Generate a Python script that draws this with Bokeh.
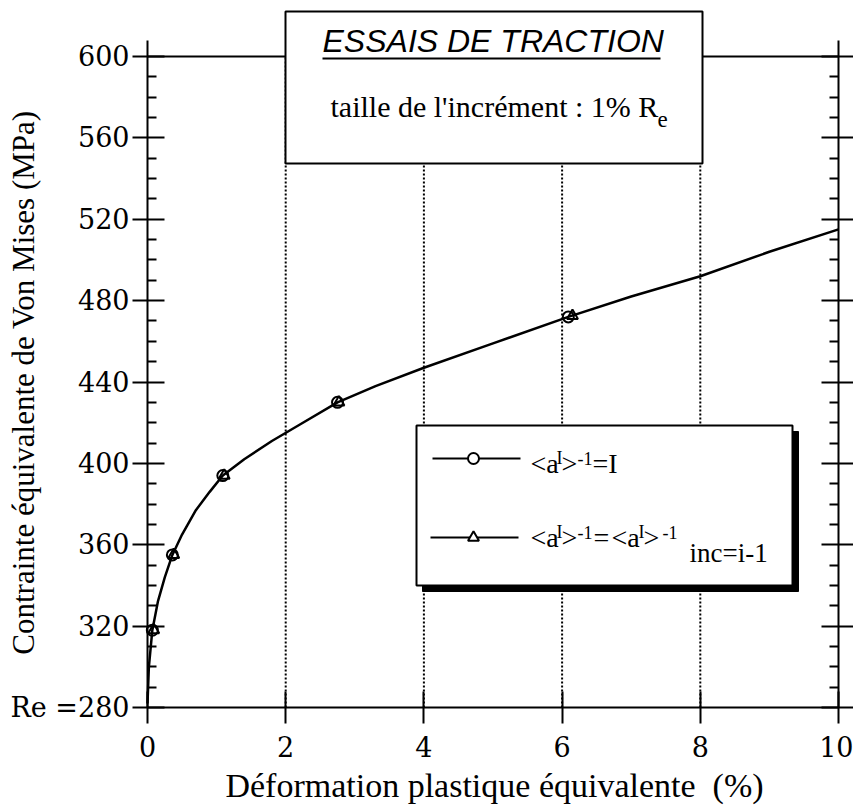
import math
from bokeh.plotting import figure
from bokeh.models import Range1d, LinearAxis, FixedTicker, Label, CustomJSTickFormatter
from bokeh.embed import file_html
from bokeh.resources import INLINE

# ---------------- data ----------------
strain_curve = [0.0, 0.02, 0.07, 0.15, 0.25, 0.36, 0.5, 0.7, 0.9, 1.09, 1.4, 1.8,
                2.2, 2.75, 3.3, 4.0, 5.0, 6.09, 7.0, 8.0, 9.0, 10.0]
stress_curve = [282, 300, 318, 332, 344, 355, 365, 377, 386, 394, 402, 411,
                419, 430, 438, 447, 459, 472, 482, 492, 504, 515]
strain_I = [0.07, 0.36, 1.09, 2.75, 6.09]
stress_I = [318, 355, 394, 430, 472]
strain_inc = [0.09, 0.38, 1.11, 2.77, 6.15]
stress_inc = [318, 355, 394, 430, 472.5]

x_ticks = [0, 2, 4, 6, 8, 10]
x_grid = [2, 4, 6, 8]
y_ticks = [280, 320, 360, 400, 440, 480, 520, 560, 600]
y_minor = [v for v in range(290, 600, 10) if (v - 280) % 40 != 0]
y_label_overrides = {280: "Re =280"}

# ---------------- layout helpers (canvas px -> data) ----------------
W, H = 853, 806
FL, FB = 147, 707          # canvas position of (0, 280)
XS = 691 / 10.0            # px per % strain
YS = 651 / 320.0           # px per MPa
def X(px):
    return (px - FL) / XS
def Y(py):
    return 280 + (FB - py) / YS

p = figure(width=W, height=H,
           x_range=Range1d(X(0), X(W)), y_range=Range1d(Y(H), Y(0)),
           x_axis_type=None, y_axis_type=None,
           output_backend="svg", toolbar_location=None, min_border=0)
p.outline_line_color = None
p.background_fill_color = "white"
p.border_fill_color = "white"

TICK_FONT = "DejaVu Serif"
SERIF = "Liberation Serif"

# dotted vertical grid
p.segment(x0=x_grid, y0=[280] * len(x_grid), x1=x_grid, y1=[600] * len(x_grid),
          line_color="black", line_dash="2 2", line_width=2)

# bottom axis
xa = LinearAxis(ticker=FixedTicker(ticks=x_ticks), fixed_location=280, bounds=(0, 10),
                axis_line_width=2, axis_line_color="black",
                major_tick_line_width=2, major_tick_in=16, major_tick_out=16,
                minor_tick_line_color=None,
                major_label_text_font=TICK_FONT, major_label_text_font_size="27px",
                major_label_text_color="black", major_label_standoff=12)
p.add_layout(xa, "below")

def yaxis(loc, labels=True):
    ax = LinearAxis(ticker=FixedTicker(ticks=y_ticks, minor_ticks=y_minor),
                    fixed_location=loc, bounds=(280, Y(40)),
                    axis_line_width=2, axis_line_color="black",
                    major_tick_line_width=2, major_tick_in=17, major_tick_out=15,
                    minor_tick_line_width=2, minor_tick_in=9, minor_tick_out=0,
                    major_label_text_font=TICK_FONT, major_label_text_font_size="27px",
                    major_label_text_color="black", major_label_standoff=3)
    if labels:
        ax.major_label_overrides = y_label_overrides
    else:
        ax.formatter = CustomJSTickFormatter(code="return ''")
    return ax

p.add_layout(yaxis(0, True), "left")
p.add_layout(yaxis(10, False), "right")

# top frame line (interrupted by the title box)
p.segment(x0=[0, 8], y0=[600, 600], x1=[2, 10], y1=[600, 600],
          line_color="black", line_width=2)

# curve and markers
p.line(strain_curve, stress_curve, line_color="black", line_width=2.5)
p.scatter(strain_inc, stress_inc, marker="triangle", size=11,
          fill_color=None, line_color="black", line_width=2)
p.scatter(strain_I, stress_I, marker="circle", size=11,
          fill_color=None, line_color="black", line_width=2)

def txt(s, px, base_py, size, font=SERIF, style="normal", align="left", angle=0.0):
    # anchor at the middle of the text box: baseline sits ~0.34 em below it
    p.add_layout(Label(x=X(px), y=Y(base_py - 0.34 * size), text=s,
                       text_font=font, text_font_style=style,
                       text_font_size="%dpx" % size, text_baseline="middle",
                       text_align=align, text_color="black", angle=angle))

# title box
p.quad(left=X(285), right=X(702), bottom=Y(163), top=Y(11),
       fill_color="white", line_color="black", line_width=2)
txt("ESSAIS DE TRACTION", 322, 51, 32, font="Liberation Sans", style="italic")
p.segment(x0=X(322), y0=Y(58), x1=X(660), y1=Y(58), line_color="black", line_width=2)
txt("taille de l'incrément : 1% R", 330, 116, 30)
txt("e", 657, 127, 23)

# legend box with shadow
p.quad(left=X(422), right=X(798), bottom=Y(591), top=Y(431),
       fill_color="black", line_color="black")
p.quad(left=X(416), right=X(792), bottom=Y(585), top=Y(425),
       fill_color="white", line_color="black", line_width=2)
p.line([X(432), X(520)], [Y(458), Y(458)], line_color="black", line_width=2)
p.scatter([X(473)], [Y(458)], marker="circle", size=11,
          fill_color="white", line_color="black", line_width=2)
p.line([X(430), X(518)], [Y(537), Y(537)], line_color="black", line_width=2)
p.scatter([X(473)], [Y(537)], marker="triangle", size=11,
          fill_color="white", line_color="black", line_width=2)

# entry 1 : <a^I>^-1=I
txt("<a", 530, 473, 28); txt("I", 556, 464, 18); txt(">", 561, 473, 28)
txt("-1", 577, 464, 18); txt("=I", 592, 473, 28)
# entry 2 : <a^I>^-1=<a^I>^-1_inc=i-1
txt("<a", 530, 547, 28); txt("I", 556, 538, 18); txt(">", 561, 547, 28)
txt("-1", 577, 538, 18); txt("=", 593, 547, 28)
txt("<a", 611, 547, 28); txt("I", 638, 538, 18); txt(">", 643, 547, 28)
txt("-1", 662, 538, 18); txt("inc=i-1", 689, 562, 27)

# axis titles
p.add_layout(Label(x=X(23), y=Y(382), text="Contrainte équivalente de Von Mises (MPa)",
                   angle=math.pi / 2, text_align="center", text_baseline="middle",
                   text_font=SERIF, text_font_size="31px", text_color="black"))
txt("Déformation plastique équivalente\u00a0\u00a0(%)", 494, 797, 34, align="center")

open("out.html", "w").write(file_html(p, INLINE))
